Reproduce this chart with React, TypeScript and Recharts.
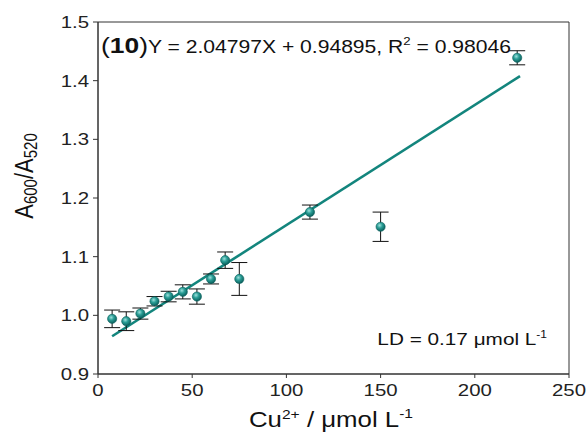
import React from 'react';
import { ScatterChart, Scatter, XAxis, YAxis, ErrorBar, ReferenceLine, ReferenceArea, Customized } from 'recharts';

const concentrations = [7.5, 15, 22.5, 30, 37.5, 45, 52.5, 60, 67.5, 75, 112.5, 150, 222.5];
const ratios = [0.994, 0.99, 1.003, 1.024, 1.032, 1.04, 1.032, 1.062, 1.094, 1.062, 1.176, 1.151, 1.439];
const errors = [0.015, 0.016, 0.0095, 0.008, 0.009, 0.012, 0.013, 0.0085, 0.014, 0.028, 0.012, 0.025, 0.012];
const xTicks = [0, 50, 100, 150, 200, 250];
const yTicks = [0.9, 1.0, 1.1, 1.2, 1.3, 1.4, 1.5];
const slope = 2.04797; // per mmol/L
const intercept = 0.94895;
const fitRange = [7.5, 224];

const points = concentrations.map((x, i) => ({ x, y: ratios[i], err: errors[i] }));
const fitSegment = fitRange.map((x) => ({ x, y: slope * (x / 1000) + intercept }));

const TEAL = '#13857d';
const SX = 1.2;
const FONT = 'Arial, "Liberation Sans", sans-serif';

const XTick = (props: any) => {
  const { x, y, payload } = props;
  return (
    <g transform={`translate(${x},${y + 16}) scale(${SX},1)`}>
      <text x={0} y={0} textAnchor="middle" fontSize={17} fill="#222" fontFamily={FONT}>
        {payload.value}
      </text>
    </g>
  );
};

const YTick = (props: any) => {
  const { x, y, payload } = props;
  return (
    <g transform={`translate(${x - 2},${y + 6}) scale(${SX},1)`}>
      <text x={0} y={0} textAnchor="end" fontSize={17} fill="#222" fontFamily={FONT}>
        {Number(payload.value).toFixed(1)}
      </text>
    </g>
  );
};

const Sphere = (props: any) => {
  const { cx, cy } = props;
  if (cx == null || cy == null) return null;
  return <circle cx={cx} cy={cy} r={4.6} fill="url(#sphereGrad)" stroke="#0a5f5c" strokeWidth={0.6} />;
};

const Annotations = () => (
  <g fontFamily={FONT} fill="#111">
    <defs>
      <radialGradient id="sphereGrad" cx="40%" cy="35%" r="65%">
        <stop offset="0%" stopColor="#9fe0dc" />
        <stop offset="45%" stopColor="#2a9e96" />
        <stop offset="100%" stopColor="#0b5f5c" />
      </radialGradient>
    </defs>
    <g transform={`translate(101,53) scale(${SX},1)`}>
      <text x={0} y={0} fontSize={17.6}>
        <tspan fontSize={22}>(</tspan>
        <tspan fontSize={22} fontWeight="bold">10</tspan>
        <tspan fontSize={22}>)</tspan>
        <tspan>Y = 2.04797X + 0.94895, R</tspan>
        <tspan fontSize={11} dy={-8}>2</tspan>
        <tspan dy={8}> = 0.98046</tspan>
      </text>
    </g>
    <g transform={`translate(547,345) scale(${SX},1)`}>
      <text x={0} y={0} fontSize={17.3} textAnchor="end">
        <tspan>LD = 0.17 μmol L</tspan>
        <tspan fontSize={10} dy={-7}>-1</tspan>
      </text>
    </g>
    <g transform={`translate(331,427) scale(${SX},1)`}>
      <text x={0} y={0} fontSize={21.5} textAnchor="middle">
        <tspan>Cu</tspan>
        <tspan fontSize={13} dy={-8}>2+</tspan>
        <tspan dy={8}> / μmol L</tspan>
        <tspan fontSize={13} dy={-9}>-1</tspan>
      </text>
    </g>
    <g transform={`translate(33,176) scale(${SX},1) rotate(-90)`}>
      <text x={0} y={0} fontSize={22} textAnchor="middle">
        <tspan>A</tspan>
        <tspan fontSize={15} dy={3}>600</tspan>
        <tspan dy={-3}>/A</tspan>
        <tspan fontSize={15} dy={3}>520</tspan>
      </text>
    </g>
  </g>
);

export default function App() {
  return (
    <div style={{ position: 'absolute', left: 0, top: 0, background: '#fff' }}>
      <ScatterChart width={588} height={442} margin={{ top: 22, right: 19, bottom: 18, left: 38 }}>
        <Customized component={Annotations} />
        <ReferenceArea x1={0} x2={250} y1={0.9} y2={1.5} fill="none" stroke="#333" strokeWidth={1} ifOverflow="visible" />
        <XAxis
          type="number"
          dataKey="x"
          domain={[0, 250]}
          ticks={xTicks}
          tick={<XTick />}
          tickSize={4}
          height={50}
          stroke="#333"
          allowDataOverflow
        />
        <YAxis
          type="number"
          dataKey="y"
          domain={[0.9, 1.5]}
          ticks={yTicks}
          tick={<YTick />}
          tickSize={5}
          width={60}
          stroke="#333"
          allowDataOverflow
        />
        <ReferenceLine segment={fitSegment} stroke={TEAL} strokeWidth={2.6} ifOverflow="visible" />
        <Scatter data={points} shape={<Sphere />} isAnimationActive={false}>
          <ErrorBar dataKey="err" direction="y" width={8} stroke="#111" strokeWidth={1} />
        </Scatter>
      </ScatterChart>
    </div>
  );
}
